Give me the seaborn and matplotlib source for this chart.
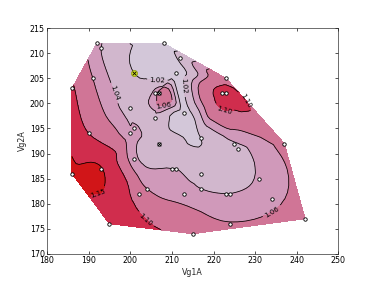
import numpy as np
import pandas as pd
import matplotlib
matplotlib.use("Agg")
import matplotlib.pyplot as plt
import matplotlib.tri as mtri
import seaborn as sns

# --- data ---
vg1a = [192, 193, 208, 212, 201, 211, 223, 191, 186, 206, 207, 222, 223, 200, 213,
        206, 201, 200, 190, 217, 207, 237, 225, 226, 201, 210, 211, 217, 186, 193,
        231, 204, 217, 202, 213, 223, 224, 234, 195, 224, 242, 215]
vg2a = [212, 211, 212, 209, 206, 206, 205, 205, 203, 202, 202, 202, 202, 199, 198,
        197, 195, 194, 194, 193, 192, 192, 192, 191, 189, 187, 187, 186, 186, 187,
        185, 183, 183, 182, 182, 182, 182, 181, 176, 176, 177, 174]
ratio = [1.045, 1.04, 1.015, 1.025, 1.02, 1.008, 1.085, 1.06, 1.105, 1.048, 1.075, 1.115, 1.115, 1.033, 1.012,
         1.033, 1.042, 1.045, 1.10, 1.02, 1.034, 1.068, 1.038, 1.036, 1.045, 1.04, 1.04, 1.034, 1.16, 1.152,
         1.042, 1.06, 1.04, 1.085, 1.05, 1.04, 1.04, 1.052, 1.13, 1.062, 1.085, 1.09]
levels = [0.90, 1.02, 1.04, 1.06, 1.10, 1.15, 1.40]
line_levels = [1.02, 1.04, 1.06, 1.10, 1.15]
band_colors = ["#d3c7d9", "#d1b7cd", "#d099ba", "#d07596", "#d02d4d", "#d11518"]
highlight_pt = (201, 206)
crossed_pts_x = [207, 207]
crossed_pts_y = [202, 192]
x_ticks = [180, 190, 200, 210, 220, 230, 240, 250]
y_ticks = [170, 175, 180, 185, 190, 195, 200, 205, 210, 215]

df = pd.DataFrame({"Vg1A": vg1a, "Vg2A": vg2a, "ratio": ratio})

sns.set_theme(style="ticks")
plt.rcParams.update({
    "font.family": ["DejaVu Sans"],
    "font.size": 12,
    "xtick.direction": "in", "ytick.direction": "in",
    "xtick.top": True, "ytick.right": True,
    "xtick.labelsize": 12, "ytick.labelsize": 12,
    "axes.labelsize": 12,
    "axes.linewidth": 1.0,
})

fig = plt.figure(figsize=(8, 6), dpi=47)
ax = fig.add_axes([0.125, 0.1, 0.775, 0.8])

tri = mtri.Triangulation(df["Vg1A"].astype(float), df["Vg2A"].astype(float))
refiner = mtri.UniformTriRefiner(tri)
interp = mtri.CubicTriInterpolator(tri, df["ratio"].values, kind="geom")
tri_f, z_f = refiner.refine_field(df["ratio"].values, triinterpolator=interp, subdiv=3)

ax.tricontourf(tri_f, z_f, levels=levels, colors=band_colors)
cs = ax.tricontour(tri_f, z_f, levels=line_levels, colors="black", linewidths=1.2)
ax.clabel(cs, fmt="%.2f", fontsize=11,
          manual=[(196, 202), (213.5, 203.5), (206.5, 204.5), (208, 199.5), (227, 200),
                  (223, 199.5), (192, 183), (205, 178), (234, 178.5)])

sns.scatterplot(data=df, x="Vg1A", y="Vg2A", ax=ax, marker="o", s=28,
                facecolor="white", edgecolor="black", linewidth=1.3, legend=False, zorder=5)
ax.scatter([highlight_pt[0]], [highlight_pt[1]], s=90, facecolor="#c8d41e",
           edgecolor="#8a9a10", linewidth=1, zorder=6)
ax.scatter([highlight_pt[0]], [highlight_pt[1]], s=30, marker="x", color="black",
           linewidth=1.2, zorder=7)
ax.scatter(crossed_pts_x, crossed_pts_y, s=30, marker="x", color="black",
           linewidth=1.2, zorder=7)

ax.set_xlim(180, 250)
ax.set_ylim(170, 215)
ax.set_xticks(x_ticks)
ax.set_yticks(y_ticks)
ax.set_xlabel("Vg1A")
ax.set_ylabel("Vg2A")
ax.tick_params(length=4, width=1, colors="black")

fig.savefig("out.png", dpi=47)
